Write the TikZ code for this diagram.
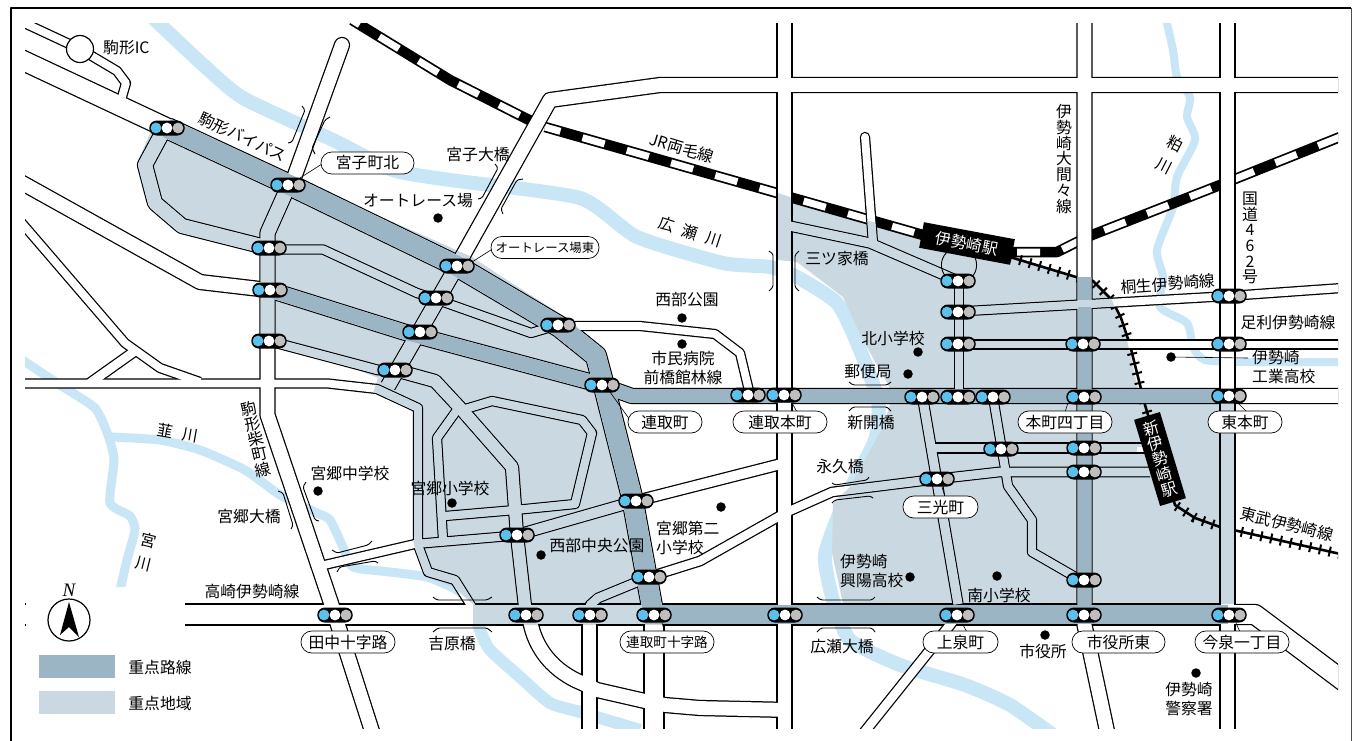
\documentclass[tikz,border=0pt]{standalone}
\usepackage{fontspec}
\setmainfont{Noto Sans CJK JP}
\newfontfamily\nfont{Liberation Serif}
\lineskiplimit=-50pt
\normallineskiplimit=-50pt
\definecolor{riverc}{HTML}{C9E6F6}
\definecolor{areac}{HTML}{CAD8E2}
\definecolor{darkc}{HTML}{9BB5C4}
\definecolor{sigblue}{HTML}{5BC0EB}
\definecolor{siggray}{HTML}{BEBEBE}
\newcommand\rd[3][]{\draw[roadpass=#2,#1] #3;}
\newcommand\allroads{%
 \rd{15}{(784.5,-10)--(784.5,750)}
 \rd{15}{(1227.5,-10)--(1227.5,750)}
 \rd{15}{(1084.5,-10)--(1084.5,625)--(1111,750)}
 \rd{15}{(457,266)--(550,100)--(660,85)--(1370,85)}
 \rd{15}{(457,266)--(388,386)}
 \rd{15}{(288,187)--(267.5,233)--(267.5,415)--(331,603)--(338,625)--(378,750)}
 \rd[line cap=round]{15}{(295,175)--(342,45)}
 \rd[line cap=round]{9}{(865,137)--(873,243)}
 \rd{20}{(-10,45)--(167,128)}
 \rd{9}{(-10,7)--(80,49)--(117,71)--(126,83)--(122,97)}
 \rd{15}{(-10,165)--(200,282)--(260,289)}
 \rd{9}{(-10,186)--(125,343)--(160,368)--(200,382)}
 \rd{10}{(90,383)--(135,351)}
 \rd{9}{(-10,383.5)--(328,383.5)--(377,389)--(418,408)--(418,545)--(428,572)--(455,580)--(475,612)}
 \rd{15}{(165,128)--(145,165)--(155,203)--(182,226)--(269,248)}
 \rd{9}{(269,249.5)--(323,249.5)--(417,293)--(435,299)--(531,333)--(558,325)}
 \rd{9.5}{(269,341)--(378,370)--(395,370)}
 \rd{13}{(395,370)--(435,381)--(462,410)--(512,467)--(517,535)--(526,615)}
 \rd{9}{(462,410)--(492,401)--(582,420)--(592,433)--(575,504)--(515,510)--(445,516)}
 \rd{9}{(457,410)--(437,438)--(443,540)}
 \rd{9}{(320,566)--(415,544)--(510,536)}
 \rd{11}{(517,535)--(636,501)--(785,463)}
 \rd{9.5}{(590,615)--(590,605)--(598,598)--(649,577)--(700,561)--(785,513)--(832,492)--(937,479)--(999,472)--(1150,472)}
 \rd{15}{(530,620) .. controls (535,650) and (555,672) .. (582,683)--(597,690)--(645,701)--(665,705)--(700,708)--(790,710)}
 \rd{15}{(589.5,615)--(589.5,750)}
 \rd{20}{(654,615)--(654,750)}
 \rd{20}{(1228,614.5)--(1255,614.5)--(1370,701)}
 \rd{9}{(575,326)--(640,326)--(715,334)--(740,353)--(750,395)}
 \rd{10}{(922.5,397)--(958,604)}
 \rd{10}{(958,614)--(950,625)--(850,750)}
 \rd{10}{(930,448)--(1150,448)}
 \rd{9}{(993,397)--(1007,480)--(1008,486)--(1032,520)--(1032,552)--(1084,582)}
 \rd{9}{(959,281)--(959,397)}
 \rd{9}{(959,311.5)--(1229,296)--(1370,286)}
 \rd{9}{(959,344.5)--(1370,344.5)}
 \rd{10}{(785,225)--(870,243)--(958,281)}
 \rd{21}{(-10,614.5)--(1228,614.5)}
 \rd{21}{(167,128)--(296,188)--(457,266)--(560,327)--(596,356)--(605,390)--(632,497)--(653,612)}
 \rd{15}{(603,385)--(615,390)--(632,396)--(1370,396)}
 \rd{16}{(270,290)--(404,332)--(602,385)}
}
\newcommand\areaA{(155,122)--(185,125)--(296,179)--(472,257)--(507,280)--(567,318)--(603,350)--(612,380)--(640,487)--(663,604)--(663,625)--(473,625)--(473,604)--(453,587)--(425,577)--(415,548)--(413,540)--(413,410)--(373,393)--(378,378)--(358,370)--(275,347)--(260,345)--(260,253)--(178,232)--(149,207)--(137,163)--cycle}
\newcommand\areaB{(778,193)--(793,198)--(865,220)--(923,235)--(1015,250)--(1010,258)--(1076,277)--(1093,277)--(1093,282)--(1112,300)--(1127,340)--(1136,380)--(1142,404)--(1235,404)--(1235,604)--(843,604)--(832,553)--(833,503)--(850,487)--(884,425)--(890,404)--(890,388)--(863,340)--(843,297)--(797,262)--(778,260)--cycle}
\tikzset{
 x=1pt,y=-1pt,
 txt/.style={inner sep=0pt,font=\fontsize{15.8}{19}\selectfont,align=left},
 vtxt/.style={inner sep=0pt,font=\fontsize{15.8}{15.7}\selectfont,align=center},
 lab/.style={draw=black,fill=white,line width=.7pt,rounded corners=10.8pt,minimum height=22pt,inner sep=0pt,font=\fontsize{15.8}{19}\selectfont},
 stn/.style={fill=black,text=white,inner sep=0pt,font=\fontsize{15.8}{15.7}\selectfont,align=center},
 dot/.style={circle,fill=black,minimum size=9.5pt,inner sep=0pt},
 pill/.style={fill=black,rounded corners=7.5pt,minimum width=35.5pt,minimum height=15pt,inner sep=0pt},
 leader/.style={line width=.6pt},
 brk/.style={line width=.9pt,rounded corners=1.5pt},
 riv/.style={riverc,line join=round,line cap=butt},
 jr/.style={line width=10.5pt,black},
 jrw/.style={line width=7pt,white,dash pattern=on 23pt off 23pt},
 tob/.style={line width=2.6pt,black,line join=round},
 tobt/.style={line width=10pt,black,dash pattern=on 2pt off 8pt},
}
\begin{document}
\begin{tikzpicture}[line join=round]
\useasboundingbox (0,0) rectangle (1352,740);
\fill[white] (0,0) rectangle (1352,740);
\begin{scope}
\clip (25,23) rectangle (1338,728);
% rivers
\draw[riv,line width=14pt] plot[smooth,tension=.35] coordinates {(150,15)(200,62)(243,98)(333,140)(393,170)(450,180)(580,198)(637,237)(723,263)(770,267)(797,277)(837,303)(858,345)(878,400)(875,440)(845,500)(825,555)(833,600)(850,640)(900,665)(965,685)(1010,705)(1060,740)};
\draw[riv,line width=9pt] plot[smooth,tension=.35] coordinates {(15,355)(60,385)(95,408)(108,435)(114,460)(110,503)(130,516)(135,530)(127,560)(120,590)};
\draw[riv,line width=9pt] plot[smooth,tension=.35] coordinates {(112,437)(160,440)(200,450)(245,470)(280,495)(317,513)(330,520)(343,547)(353,567)(390,572)(427,577)(457,590)(473,605)};
\draw[riv,line width=12pt] plot[smooth,tension=.35] coordinates {(473,605)(480,630)(490,650)(520,677)(550,703)(580,712)(640,730)};
\draw[riv,line width=8pt] plot[smooth,tension=.4] coordinates {(1165,15)(1173,50)(1177,77)(1190,97)(1187,117)(1195,140)(1177,177)(1173,207)(1157,250)(1163,277)(1160,307)(1187,323)(1193,347)(1205,360)(1250,362)(1345,362)};
% priority areas
\fill[areac] \areaA;
\fill[areac] \areaB;
% railways
\draw[jr] (352,20)--(450,80)--(533,122);
\draw[jrw,dash phase=14pt] (352,20)--(450,80)--(533,122);
\draw[jr] (545,127)--(777,193)--(793,198)--(923,235);
\draw[jrw,dash phase=7pt] (545,127)--(777,193)--(793,198)--(923,235);
\draw[jr] (1010,252)--(1057,252)--(1077,242)--(1092,235)--(1220,185)--(1345,135);
\draw[jrw,dash phase=39pt] (1010,252)--(1057,252)--(1077,242)--(1092,235)--(1220,185)--(1345,135);
\newcommand\tobupath{(1010,257)--(1076,277)--(1093,281)--(1112,300)--(1121,318)--(1130,345)--(1145,405)--(1175,505)--(1195,518)--(1220,527)--(1345,555)}
\draw[tob] \tobupath;
\draw[tobt] \tobupath;
% roads: casing, white core, area core, priority core
\begin{scope}[roadpass/.style={line width=#1pt+1.3pt,black}]
\allroads
\end{scope}
\begin{scope}[roadpass/.style={line width=#1pt-1.2pt,white}]
\allroads
\end{scope}
\begin{scope}
\clip \areaA;
\begin{scope}[roadpass/.style={line width=#1pt-1.2pt,areac}]
\allroads
\end{scope}
\end{scope}
\begin{scope}
\clip \areaB;
\begin{scope}[roadpass/.style={line width=#1pt-1.2pt,areac}]
\allroads
\end{scope}
\end{scope}
\begin{scope}[roadpass/.style={line width=#1pt-1.2pt,darkc}]
 \rd{21}{(167,128)--(296,188)--(457,266)--(560,327)--(596,356)--(605,390)--(632,497)--(653,612)}
 \rd{21}{(645,614.5)--(1228,614.5)}
 \rd{15}{(603,385)--(615,390)--(632,396)--(1228,396)}
 \rd{16}{(270,290)--(404,332)--(602,385)}
 \rd{15}{(1084.5,277)--(1084.5,615)}
\end{scope}
\fill[areac] (1077.5,300) rectangle (1092,307);
\fill[white] (1137,447) rectangle (1144,452);
% legend backdrop
\fill[white] (26,587) rectangle (185,728);
% bridges
\draw[brk] (302,106)--(305,110)--(292,142)--(288,143);
\draw[brk] (330,117)--(325,120)--(312,148)--(315,154);
\draw[brk] (495,164)--(498,168)--(482,198)--(478,199);
\draw[brk] (523,179)--(517,180)--(501,209)--(503,214);
\draw[brk] (769,251)--(773,254)--(773,287)--(769,291);
\draw[brk] (799,251)--(795,255)--(795,287)--(799,291);
\draw[brk] (849,382)--(853,385)--(887,385)--(891,382);
\draw[brk] (849,411)--(853,407)--(887,407)--(891,411);
\draw[brk] (832,483)--(835,485)--(867,480)--(869,477);
\draw[brk] (832,503)--(835,500)--(870,496)--(873,498);
\draw[brk] (817,597)--(821,600)--(872,600)--(875,597);
\draw[brk] (817,632)--(821,628)--(872,628)--(875,632);
\draw[brk] (433,597)--(437,600)--(487,600)--(492,597);
\draw[brk] (433,632)--(438,628)--(487,628)--(492,632);
\draw[brk] (278,491)--(283,493)--(293,525)--(291,529);
\draw[brk] (306,482)--(303,487)--(315,520)--(319,521);
\draw[brk] (332,550)--(337,553)--(368,545)--(372,541);
\draw[brk] (337,572)--(340,567)--(375,561)--(378,563);
% interchange
\node[circle,draw=black,fill=white,line width=1.2pt,minimum size=27pt,inner sep=0pt] (ic) at (80,49) {};
\draw[line width=.9pt] (959,265) circle (17.6pt);
\end{scope}
% stations
\node[stn,rotate=-10.6,minimum width=92.5pt,minimum height=26pt] (isesaki) at (967,243.5) {伊勢崎駅};
\node[stn,rotate=16.8,minimum width=27pt,minimum height=90pt] (shin) at (1160,459) {新\\伊\\勢\\崎\\駅};
% signals
\foreach \x/\y [count=\i] in {167/128,288/185,269/248,270/290,269/341,436/298,420/332,395/370,457/266,558/325,602/385,636/501,517/535,649/577,526/615,590/615,654/615,785/615,335/615,748/395,784/395,922/397,958/397,993/397,1084/397,1229/396,958/281,958/312,958/344,1083/344,1229/296,1229/344,1001/449,1084/448,1084/472,937/479,1084/580,957/615,1084/615,1229/615}{
 \node[pill] (sig\i) at (\x,\y) {};
 \fill[sigblue] (\x-11,\y) circle (5.4pt);
 \fill[white] (\x,\y) circle (5.4pt);
 \fill[siggray] (\x+11,\y) circle (5.4pt);
}
% leaders
\coordinate (a1) at (300,178); \coordinate (b1) at (325,162);
\coordinate (a2) at (472,262); \coordinate (b2) at (494,248);
\coordinate (a3) at (610,392); \coordinate (b3) at (630,420);
\coordinate (a4) at (792,403); \coordinate (b4) at (797,412);
\coordinate (a5) at (1068,403); \coordinate (b5) at (1065,412);
\coordinate (a6) at (1238,403); \coordinate (b6) at (1247,412);
\coordinate (a7) at (942,487); \coordinate (b7) at (945,497);
\coordinate (a8) at (963,625); \coordinate (b8) at (967,632);
\coordinate (a9) at (1236,623); \coordinate (b9) at (1240,632);
\coordinate (a10) at (662,623); \coordinate (b10) at (665,632);
\coordinate (dk) at (1171,357); \coordinate (ek) at (1248,358);
\foreach \i in {1,...,10}{\draw[leader] (a\i)--(b\i);}
\draw[leader] (dk)--(ek);
% boxed labels
\node[lab,minimum width=93pt] (l1) at (367.5,163) {宮子町北};
\node[lab,minimum width=108pt,font=\fontsize{12.4}{15}\selectfont] (l2) at (545,247.5) {オートレース場東};
\node[lab,minimum width=74pt] (l3) at (665,422) {連取町};
\node[lab,minimum width=94pt] (l4) at (780,422) {連取本町};
\node[lab,minimum width=94pt] (l5) at (1065,422) {本町四丁目};
\node[lab,minimum width=74pt] (l6) at (1245,422) {東本町};
\node[lab,minimum width=75pt] (l7) at (940.5,507) {三光町};
\node[lab,minimum width=75pt] (l8) at (960.5,642) {上泉町};
\node[lab,minimum width=93pt] (l9) at (1118.5,642) {市役所東};
\node[lab,minimum width=94pt] (l10) at (1242,642) {今泉一丁目};
\node[lab,minimum width=94pt,font=\fontsize{13.6}{16}\selectfont] (l11) at (667,642) {連取町十字路};
\node[lab,minimum width=94pt] (l12) at (348,642) {田中十字路};
% dots
\foreach \x/\y [count=\i] in {682/318,682/344,918/352,908/374,910/577,721/507,541/555,452/503,318/491,1171/357,1045/635,997/576,1196/673,438/218}{
 \node[dot] (d\i) at (\x,\y) {};
}
% texts
\node[txt,anchor=west] (t1) at (103,48) {駒形IC};
\node[txt,rotate=-25] (t2) at (243,137) {駒形バイパス};
\node[txt] (t3) at (478,155) {宮子大橋};
\node[txt] (t4) at (418,201) {オートレース場};
\node[txt,rotate=-17] (t5) at (682,148) {JR両毛線};
\node[txt,rotate=-18] (t6) at (690,232) {広\hspace{9pt}瀬\hspace{9pt}川};
\node[txt] (t7) at (837,259) {三ツ家橋};
\node[txt] (t8) at (687,300) {西部公園};
\node[txt,align=center] (t9) at (683,368) {市民病院\\前橋館林線};
\node[txt] (t10) at (893,338) {北小学校};
\node[txt] (t11) at (868,372) {郵便局};
\node[txt] (t12) at (871,423) {新開橋};
\node[txt] (t13) at (840,467) {永久橋};
\node[txt,anchor=west] (t14) at (840,571.5) {伊勢崎\\興陽高校};
\node[txt,anchor=west] (t15) at (656,537.5) {宮郷第二\\小学校};
\node[txt] (t16) at (597,546) {西部中央公園};
\node[txt] (t17) at (450,488) {宮郷小学校};
\node[txt] (t18) at (350,473) {宮郷中学校};
\node[txt] (t19) at (249,516) {宮郷大橋};
\node[txt,rotate=-10] (t20) at (178,433) {韮\hspace{9pt}川};
\node[vtxt,rotate=-14] (t21) at (146,552) {宮\\[8pt]川};
\node[vtxt,rotate=13] (t22) at (256,439) {駒\\形\\柴\\町\\線};
\node[vtxt,rotate=-27] (t23) at (1170,155) {粕\\[9pt]川};
\node[vtxt] (t24) at (1064,159) {伊\\勢\\崎\\大\\間\\々\\線};
\node[vtxt] (t25) at (1250,238) {国\\道\\4\\6\\2\\号};
\node[txt,rotate=4] (t26) at (1168,284) {桐生伊勢崎線};
\node[txt] (t27) at (1288,322) {足利伊勢崎線};
\node[txt,anchor=west] (t28) at (1252,367.5) {伊勢崎\\工業高校};
\node[txt] (t29) at (1043,651) {市役所};
\node[txt] (t30) at (999,595) {南小学校};
\node[txt,align=center] (t31) at (1189,698.5) {伊勢崎\\警察署};
\node[txt,rotate=-14] (t32) at (1287,524) {東武伊勢崎線};
\node[txt] (t33) at (252,591) {高崎伊勢崎線};
\node[txt] (t34) at (452,644) {吉原橋};
\node[txt] (t35) at (842,647) {広瀬大橋};
% legend
\fill[darkc] (39,655) rectangle (115,678);
\fill[areac] (39,691) rectangle (115,714);
\node[txt] (t36) at (160,667) {重点路線};
\node[txt] (t37) at (160,703) {重点地域};
\node[circle,draw=black,line width=1.2pt,minimum size=42pt,inner sep=0pt] (comp) at (69,620) {};
\fill[black] (69,602)--(79,637)--(69,627)--(60,635)--cycle;
\node[inner sep=0pt,font=\nfont\itshape\fontsize{19}{20}\selectfont] (north) at (69,590) {N};
% frame
\draw[line width=1.7pt,black] (11,741)--(11,8)--(1351,8);
\draw[line width=1pt,black!70] (1351,8)--(1351,741);
\end{tikzpicture}
\end{document}
